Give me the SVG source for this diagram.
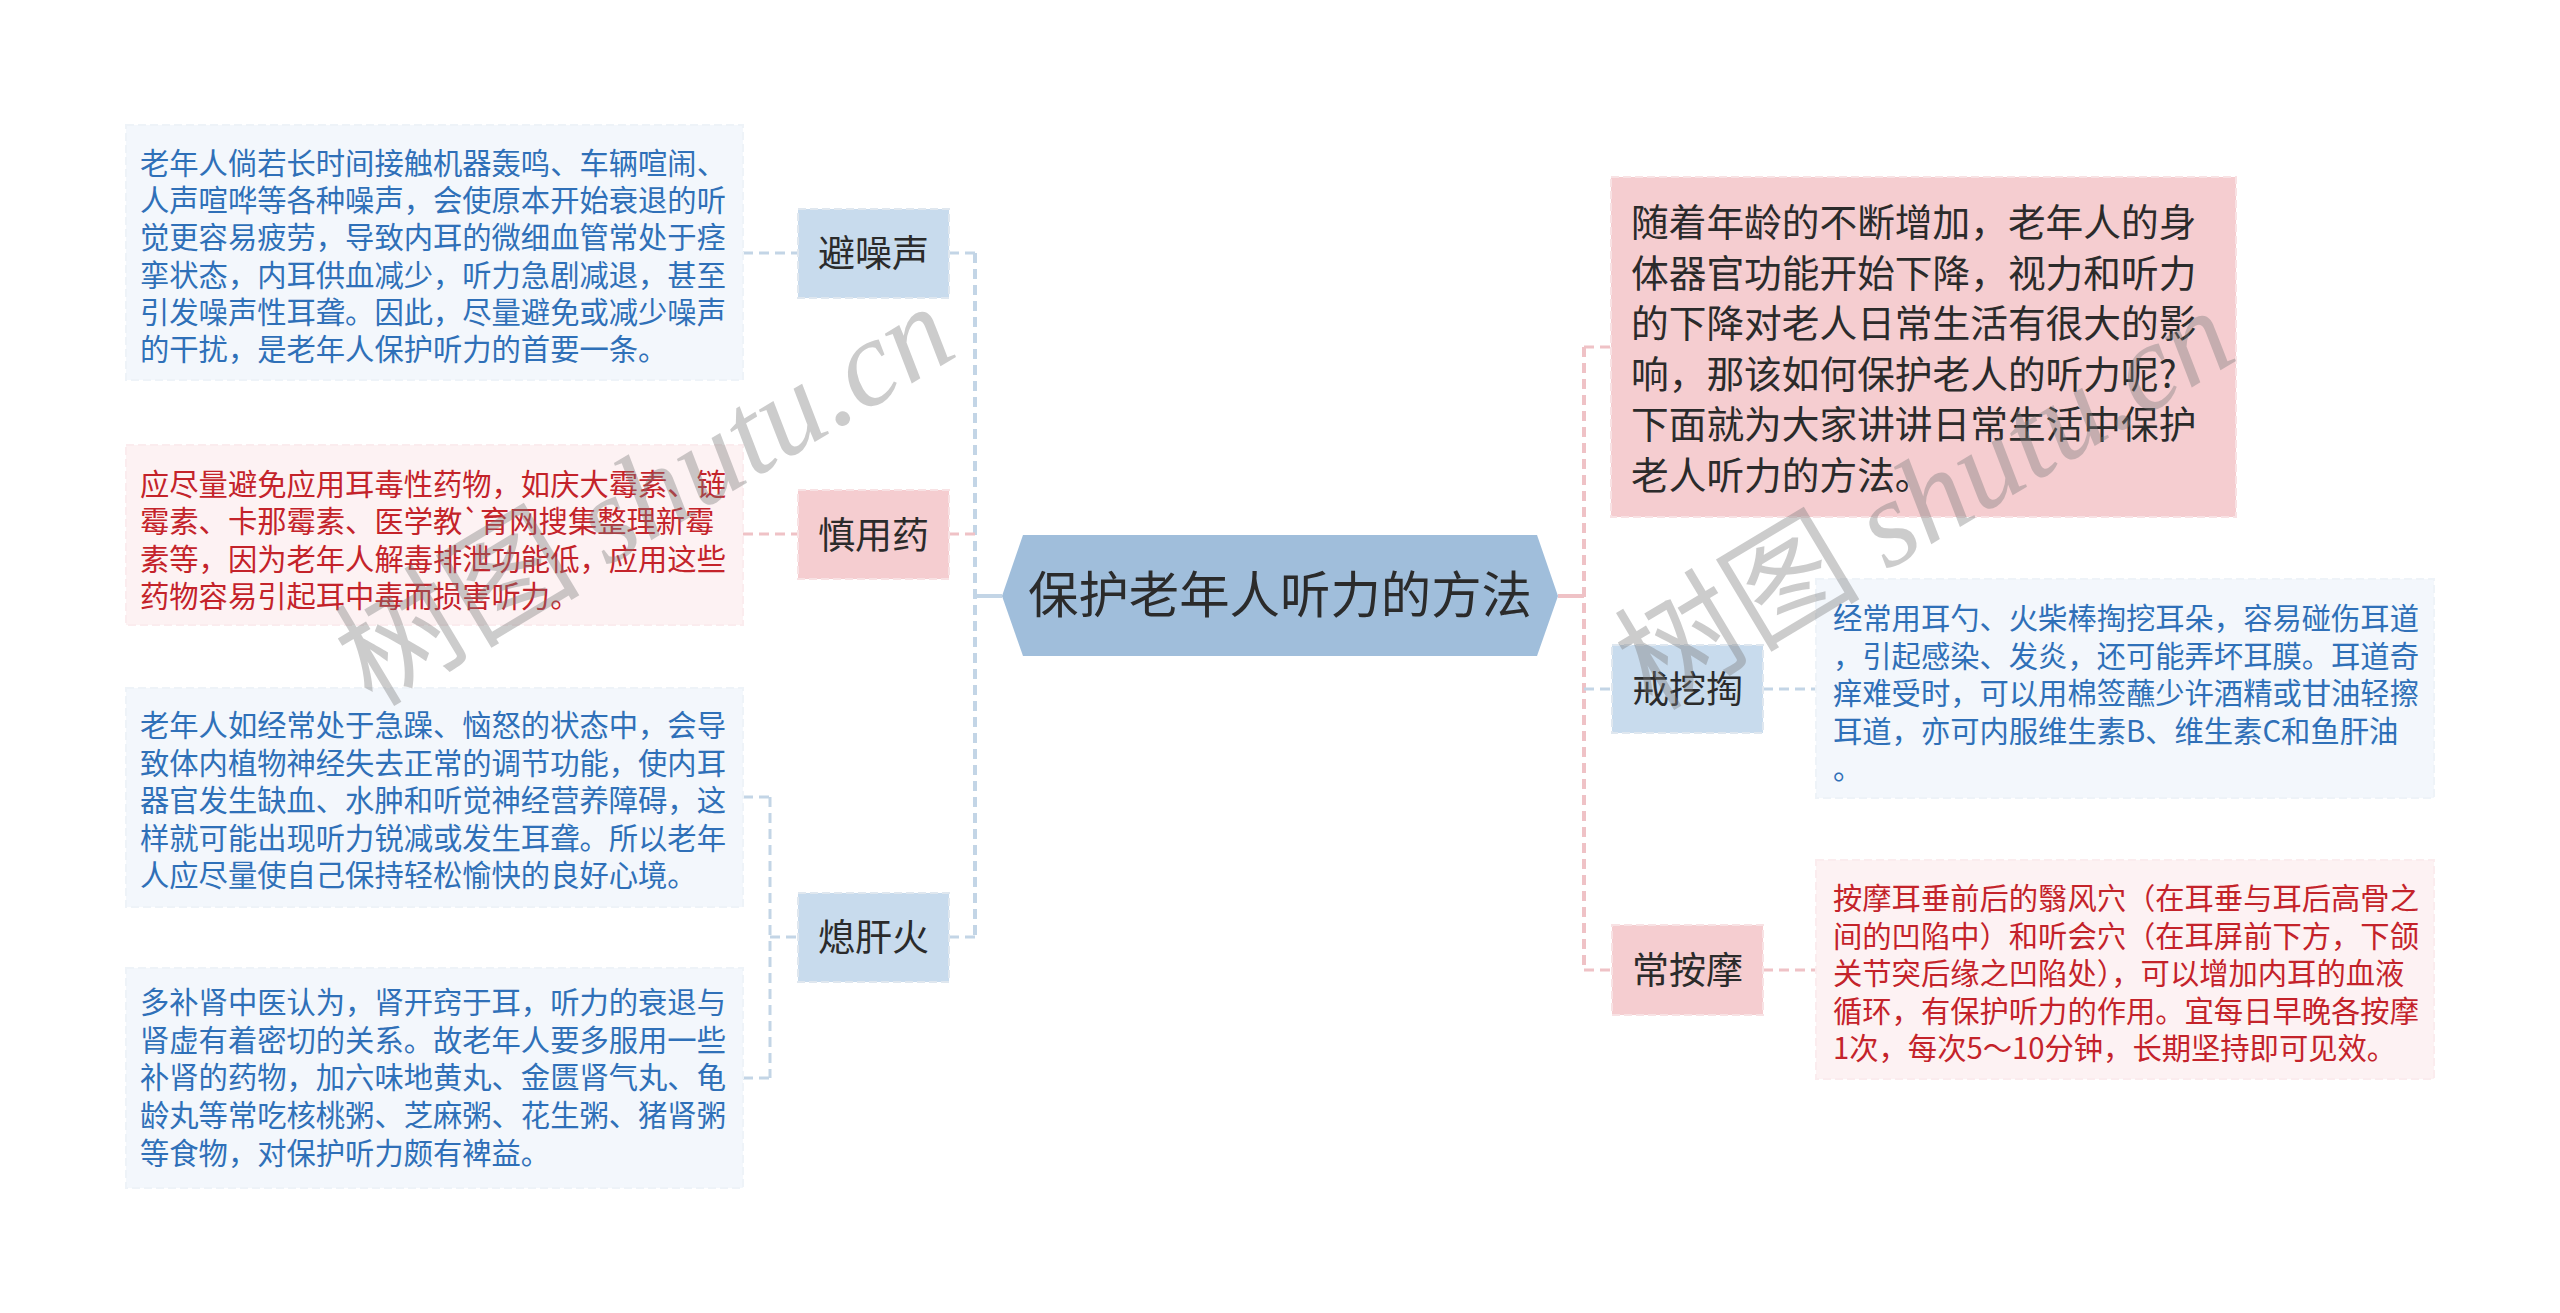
<svg xmlns="http://www.w3.org/2000/svg" width="2560" height="1313" viewBox="0 0 2560 1313">
<style>
.leafb{fill:#f3f7fc;stroke:#eef3f8;stroke-width:2;stroke-dasharray:8 4}
.leafp{fill:#fdf2f3;stroke:#fbecee;stroke-width:2;stroke-dasharray:8 4}
.brb{fill:#c8dbed;stroke:#dfe7ef;stroke-width:2;stroke-dasharray:8 4}
.brp{fill:#f5cdd0;stroke:#f8e2e4;stroke-width:2;stroke-dasharray:8 4}
.t{font-family:"Noto Sans CJK SC","Noto Sans",sans-serif}
.tb{font-size:29.3px;fill:#2f70b8}
.tr{font-size:29.3px;fill:#c4232a}
.tk{fill:#2b2b2b}
.lbl{font-size:37px;text-anchor:middle}
.cb{stroke:#c3d5e6;stroke-width:3;stroke-dasharray:10 6;fill:none}
.cp{stroke:#efc2c6;stroke-width:3;stroke-dasharray:10 6;fill:none}
.tv{stroke-width:4}
.wm{font-size:123px;fill:#7a7a7a;opacity:0.38}
</style>
<rect width="2560" height="1313" fill="#ffffff"/>

<g id="connectors">
  <line x1="975" y1="596" x2="1002" y2="596" stroke="#c3d5e6" stroke-width="4"/>
  <line class="cb tv" x1="975" y1="253" x2="975" y2="937"/>
  <line class="cb" x1="949" y1="253" x2="975" y2="253"/>
  <line class="cb" x1="743" y1="253" x2="798" y2="253"/>
  <line class="cp" x1="949" y1="534" x2="975" y2="534"/>
  <line class="cp" x1="743" y1="534" x2="798" y2="534"/>
  <line class="cb" x1="949" y1="937" x2="975" y2="937"/>
  <line class="cb" x1="770" y1="937" x2="798" y2="937"/>
  <line class="cb" x1="770" y1="797" x2="770" y2="1078"/>
  <line class="cb" x1="743" y1="797" x2="770" y2="797"/>
  <line class="cb" x1="743" y1="1078" x2="770" y2="1078"/>
  <line x1="1558" y1="596" x2="1584" y2="596" stroke="#efc2c6" stroke-width="4"/>
  <line class="cp tv" x1="1584" y1="347" x2="1584" y2="970"/>
  <line class="cp" x1="1584" y1="347" x2="1611" y2="347"/>
  <line class="cb" x1="1584" y1="689" x2="1612" y2="689"/>
  <line class="cb" x1="1763" y1="689" x2="1816" y2="689"/>
  <line class="cp" x1="1584" y1="970" x2="1612" y2="970"/>
  <line class="cp" x1="1763" y1="970" x2="1816" y2="970"/>
</g>

<g id="root">
  <polygon points="1002,596 1023,535 1537,535 1558,596 1537,656 1023,656" fill="#a0bedb"/>
  <text class="t tk" x="1280" y="613" font-size="50.4" text-anchor="middle">保护老年人听力的方法</text>
</g>

<g id="branch-noise">
  <rect class="brb" x="798" y="209" width="151" height="89"/>
  <text class="t tk lbl" x="873.5" y="267">避噪声</text>
</g>
<g id="leaf-noise">
  <rect class="leafb" x="126" y="125" width="617" height="255"/>
  <text class="t tb">
    <tspan x="140" y="174">老年人倘若长时间接触机器轰鸣、车辆喧闹、</tspan>
    <tspan x="140" y="211.2">人声喧哗等各种噪声，会使原本开始衰退的听</tspan>
    <tspan x="140" y="248.4">觉更容易疲劳，导致内耳的微细血管常处于痉</tspan>
    <tspan x="140" y="285.6">挛状态，内耳供血减少，听力急剧减退，甚至</tspan>
    <tspan x="140" y="322.8">引发噪声性耳聋。因此，尽量避免或减少噪声</tspan>
    <tspan x="140" y="360">的干扰，是老年人保护听力的首要一条。</tspan>
  </text>
</g>

<g id="branch-drug">
  <rect class="brp" x="798" y="490" width="151" height="89"/>
  <text class="t tk lbl" x="873.5" y="548.5">慎用药</text>
</g>
<g id="leaf-drug">
  <rect class="leafp" x="126" y="445" width="617" height="180"/>
  <text class="t tr">
    <tspan x="140" y="495">应尽量避免应用耳毒性药物，如庆大霉素、链</tspan>
    <tspan x="140" y="532.3">霉素、卡那霉素、医学教`育网搜集整理新霉</tspan>
    <tspan x="140" y="569.6">素等，因为老年人解毒排泄功能低，应用这些</tspan>
    <tspan x="140" y="606.9">药物容易引起耳中毒而损害听力。</tspan>
  </text>
</g>

<g id="branch-liver">
  <rect class="brb" x="798" y="893" width="151" height="89"/>
  <text class="t tk lbl" x="873.5" y="951">熄肝火</text>
</g>
<g id="leaf-liver-1">
  <rect class="leafb" x="126" y="688" width="617" height="219"/>
  <text class="t tb">
    <tspan x="140" y="736">老年人如经常处于急躁、恼怒的状态中，会导</tspan>
    <tspan x="140" y="773.5">致体内植物神经失去正常的调节功能，使内耳</tspan>
    <tspan x="140" y="811">器官发生缺血、水肿和听觉神经营养障碍，这</tspan>
    <tspan x="140" y="848.5">样就可能出现听力锐减或发生耳聋。所以老年</tspan>
    <tspan x="140" y="886">人应尽量使自己保持轻松愉快的良好心境。</tspan>
  </text>
</g>
<g id="leaf-liver-2">
  <rect class="leafb" x="126" y="968" width="617" height="220"/>
  <text class="t tb">
    <tspan x="140" y="1013">多补肾中医认为，肾开窍于耳，听力的衰退与</tspan>
    <tspan x="140" y="1050.7">肾虚有着密切的关系。故老年人要多服用一些</tspan>
    <tspan x="140" y="1088.4">补肾的药物，加六味地黄丸、金匮肾气丸、龟</tspan>
    <tspan x="140" y="1126.1">龄丸等常吃核桃粥、芝麻粥、花生粥、猪肾粥</tspan>
    <tspan x="140" y="1163.8">等食物，对保护听力颇有裨益。</tspan>
  </text>
</g>

<g id="intro">
  <rect class="brp" x="1611" y="177" width="625" height="340"/>
  <text class="t tk" font-size="37.7">
    <tspan x="1631" y="236">随着年龄的不断增加，老年人的身</tspan>
    <tspan x="1631" y="286.5">体器官功能开始下降，视力和听力</tspan>
    <tspan x="1631" y="337">的下降对老人日常生活有很大的影</tspan>
    <tspan x="1631" y="387.5">响，那该如何保护老人的听力呢?</tspan>
    <tspan x="1631" y="438">下面就为大家讲讲日常生活中保护</tspan>
    <tspan x="1631" y="488.5">老人听力的方法。</tspan>
  </text>
</g>

<g id="branch-dig">
  <rect class="brb" x="1612" y="645" width="151" height="88"/>
  <text class="t tk lbl" x="1687.5" y="703">戒挖掏</text>
</g>
<g id="leaf-dig">
  <rect class="leafb" x="1816" y="579" width="618" height="219"/>
  <text class="t tb">
    <tspan x="1833" y="629">经常用耳勺、火柴棒掏挖耳朵，容易碰伤耳道</tspan>
    <tspan x="1833" y="666.5">，引起感染、发炎，还可能弄坏耳膜。耳道奇</tspan>
    <tspan x="1833" y="704">痒难受时，可以用棉签蘸少许酒精或甘油轻擦</tspan>
    <tspan x="1833" y="741.5">耳道，亦可内服维生素B、维生素C和鱼肝油</tspan>
    <tspan x="1833" y="779">。</tspan>
  </text>
</g>

<g id="branch-massage">
  <rect class="brp" x="1612" y="925" width="151" height="90"/>
  <text class="t tk lbl" x="1687.5" y="984">常按摩</text>
</g>
<g id="leaf-massage">
  <rect class="leafp" x="1816" y="860" width="618" height="219"/>
  <text class="t tr">
    <tspan x="1833" y="909">按摩耳垂前后的翳风穴（在耳垂与耳后高骨之</tspan>
    <tspan x="1833" y="946.5">间的凹陷中）和听会穴（在耳屏前下方，下颌</tspan>
    <tspan x="1833" y="984">关节突后缘之凹陷处），可以增加内耳的血液</tspan>
    <tspan x="1833" y="1021.5">循环，有保护听力的作用。宜每日早晚各按摩</tspan>
    <tspan x="1833" y="1059">1次，每次5～10分钟，长期坚持即可见效。</tspan>
  </text>
</g>

<g id="watermarks">
  <text class="wm" transform="translate(372,708) rotate(-31)"><tspan font-family="'Noto Sans CJK SC',sans-serif">树图 </tspan><tspan font-family="'Liberation Serif',serif" font-style="italic">shutu.cn</tspan></text>
  <text class="wm" transform="translate(1652,712) rotate(-31)"><tspan font-family="'Noto Sans CJK SC',sans-serif">树图 </tspan><tspan font-family="'Liberation Serif',serif" font-style="italic">shutu.cn</tspan></text>
</g>
</svg>
